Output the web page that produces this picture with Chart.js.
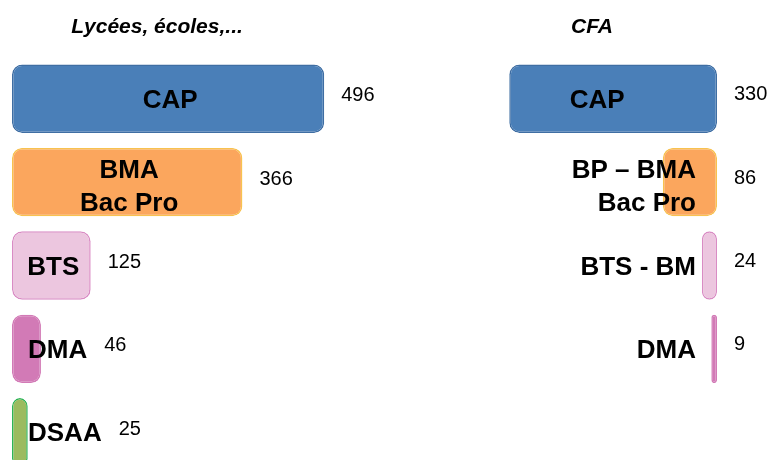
<!DOCTYPE html>
<html>
<head>
<meta charset="utf-8">
<script src="https://cdn.jsdelivr.net/npm/chart.js@4"></script>
<style>
  html, body { margin: 0; padding: 0; background: #ffffff; overflow: hidden; }
  #wrap { position: absolute; left: 0; top: 0; width: 768px; height: 480px; }
</style>
</head>
<body>
<div id="wrap"><canvas id="c"></canvas></div>
<script>
// ---- data ----
const panelTitles = ['Lycées, écoles,...', 'CFA'];
const leftCategories = [['CAP'], ['BMA', 'Bac Pro'], ['BTS'], ['DMA'], ['DSAA']];
const leftValues = [496, 366, 125, 46, 25];
const rightCategories = [['CAP'], ['BP – BMA', 'Bac Pro'], ['BTS - BM'], ['DMA']];
const rightValues = [330, 86, 24, 9];

// ---- styles ----
const leftFill = ['#4a7fb8', '#fba65d', '#ecc6df', '#d27ab6', '#9bbb5f'];
const leftBorder = ['#3f6ea3', '#f8c24f', '#d98cc4', '#d27ab6', '#2db457'];
const rightFill = ['#4a7fb8', '#fba65d', '#ecc6df', '#d27ab6'];
const rightBorder = ['#3f6ea3', '#f8c24f', '#d98cc4', '#d27ab6'];

const LABEL_FONT = 'bold 26px "Liberation Sans", Arial, sans-serif';
const VALUE_FONT = '20px "Liberation Sans", Arial, sans-serif';
const TITLE_FONT = 'italic bold 21px "Liberation Sans", Arial, sans-serif';

const labelPlugin = {
  id: 'barLabels',
  afterDatasetsDraw(chart) {
    const ctx = chart.ctx;
    ctx.save();
    ctx.fillStyle = '#000000';
    ctx.textBaseline = 'middle';
    // titles
    ctx.font = TITLE_FONT;
    ctx.textAlign = 'center';
    ctx.fillText(panelTitles[0], chart.chartArea.left + 145, 27);
    ctx.fillText(panelTitles[1], 592, 27);

    const lineH = 33;
    chart.data.datasets.forEach((ds, di) => {
      const meta = chart.getDatasetMeta(di);
      const cats = di === 0 ? leftCategories : rightCategories;
      meta.data.forEach((bar, i) => {
        if (ds.data[i] == null) return;
        const lines = cats[i];
        ctx.font = LABEL_FONT;
        const textW = Math.max(...lines.map(l => ctx.measureText(l).width));
        const y0 = bar.y + 2 + (lines.length - 1) * 3.5 - (lines.length - 1) * lineH / 2;
        if (di === 0) {
          const barW = bar.x - bar.base;
          let cx;
          if (barW >= textW + 20) {
            cx = (bar.x + bar.base) / 2 + 2;
          } else {
            cx = bar.base + 16 + textW / 2;
          }
          ctx.textAlign = 'center';
          lines.forEach((l, k) => ctx.fillText(l, cx, y0 + k * lineH));
          const labelRight = cx + textW / 2;
          ctx.font = VALUE_FONT;
          ctx.textAlign = 'left';
          ctx.fillText(String(ds.data[i]), Math.max(bar.x, labelRight) + 17, bar.y - 3);
        } else {
          const barW = bar.base - bar.x;
          if (barW >= textW + 20) {
            ctx.textAlign = 'center';
            const cx = (bar.x + bar.base) / 2 - 16;
            lines.forEach((l, k) => ctx.fillText(l, cx, y0 + k * lineH));
          } else {
            ctx.textAlign = 'right';
            const rx = bar.base - 21;
            lines.forEach((l, k) => ctx.fillText(l, rx, y0 + k * lineH));
          }
          ctx.font = VALUE_FONT;
          ctx.textAlign = 'left';
          ctx.fillText(String(ds.data[i]), bar.base + 17, bar.y - 4);
        }
      });
    });
    ctx.restore();
  }
};

new Chart(document.getElementById('c'), {
  type: 'bar',
  data: {
    labels: leftCategories.map(l => l.join(' ')),
    datasets: [
      {
        label: panelTitles[0],
        data: leftValues,
        xAxisID: 'xL',
        backgroundColor: leftFill,
        borderColor: leftBorder,
        borderWidth: 1.5,
        borderRadius: 10,
        borderSkipped: false,
        grouped: false,
        categoryPercentage: 1,
        barPercentage: 0.82
      },
      {
        label: panelTitles[1],
        data: [...rightValues, null],
        xAxisID: 'xR',
        backgroundColor: rightFill,
        borderColor: rightBorder,
        borderWidth: 1.5,
        borderRadius: 10,
        borderSkipped: false,
        grouped: false,
        categoryPercentage: 1,
        barPercentage: 0.82
      }
    ]
  },
  options: {
    indexAxis: 'y',
    responsive: true,
    maintainAspectRatio: false,
    animation: false,
    layout: { padding: { left: 12, right: 51, top: 57, bottom: 6 } },
    plugins: { legend: { display: false }, tooltip: { enabled: false }, title: { display: false } },
    scales: {
      y: { display: false, grid: { display: false } },
      xL: { type: 'linear', position: 'bottom', display: false, min: 0, max: 1120 },
      xR: { type: 'linear', position: 'top', display: false, min: 0, max: 1120, reverse: true }
    }
  },
  plugins: [labelPlugin]
});
</script>
</body>
</html>
